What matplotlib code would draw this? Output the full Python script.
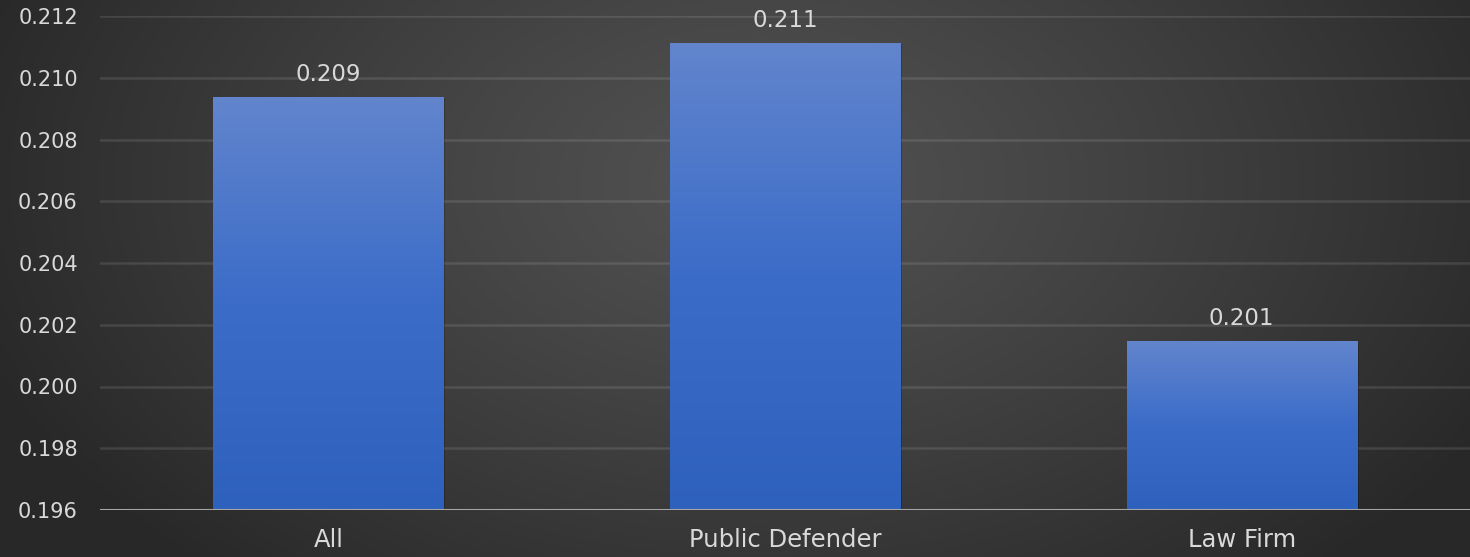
import numpy as np
import matplotlib
matplotlib.use("Agg")
import matplotlib.pyplot as plt
import matplotlib.patheffects as pe
from matplotlib.colors import LinearSegmentedColormap

categories = ["All", "Public Defender", "Law Firm"]
values = [0.20938, 0.21113, 0.20147]
y_ticks = [0.196, 0.198, 0.200, 0.202, 0.204, 0.206, 0.208, 0.210, 0.212]

plt.rcParams["font.family"] = ["DejaVu Sans"]
text_color = "#d9d9d9"

fig = plt.figure(figsize=(14.7, 5.57), dpi=100)

# radial dark background, lighter near the middle
bg = fig.add_axes([0, 0, 1, 1], zorder=-10)
h, w = 557, 1470
yy, xx = np.mgrid[0:h, 0:w]
r = np.sqrt(((xx - 760) / 820.0) ** 2 + ((yy - 180) / 520.0) ** 2)
r = np.clip(r, 0, 1)
shade = 0.32 - 0.16 * r ** 1.2
bg.imshow(np.dstack([shade, shade, shade]), aspect="auto", extent=[0, 1, 0, 1], origin="upper")
bg.axis("off")

ax = fig.add_axes([100 / 1470, 1 - 510 / 557, 1370 / 1470, 494 / 557])
ax.set_facecolor("none")
ax.set_xlim(-0.5, 2.5)
ax.set_ylim(0.196, 0.212)

bar_cmap = LinearSegmentedColormap.from_list("bar", ["#2e61bd", "#3b6cc8", "#6285cd"])
grad = np.linspace(0, 1, 256).reshape(-1, 1)

x = np.arange(len(categories))
width = 0.504
bars = ax.bar(x, values, width=width, color="#3f6fc8", zorder=3,
              path_effects=[pe.SimplePatchShadow(offset=(1.5, -1), shadow_rgbFace="black", alpha=0.2), pe.Normal()])
for b, v in zip(bars, values):
    im = ax.imshow(grad, cmap=bar_cmap, aspect="auto", origin="lower", zorder=4,
                   extent=[b.get_x(), b.get_x() + b.get_width(), 0.196, v])
    im.set_clip_path(b)
    ax.annotate(f"{v:.3f}", (b.get_x() + b.get_width() / 2, v), xytext=(0, 8),
                textcoords="offset points", ha="center", va="bottom",
                fontsize=16.5, color=text_color, zorder=5)

ax.set_yticks(y_ticks)
ax.set_yticklabels([f"{t:.3f}" for t in y_ticks])
ax.set_xticks(x)
ax.set_xticklabels(categories)
ax.tick_params(axis="both", length=0, labelcolor=text_color)
ax.tick_params(axis="y", pad=16, labelsize=15)
ax.tick_params(axis="x", pad=13, labelsize=17.5)

for t in y_ticks[1:]:
    ax.axhline(t, color="white", alpha=0.11, lw=1.8, zorder=1)
ax.axhline(0.196, color="#a6a6a6", lw=2.2, zorder=6)

for s in ax.spines.values():
    s.set_visible(False)

fig.savefig("out.png", dpi=100)
